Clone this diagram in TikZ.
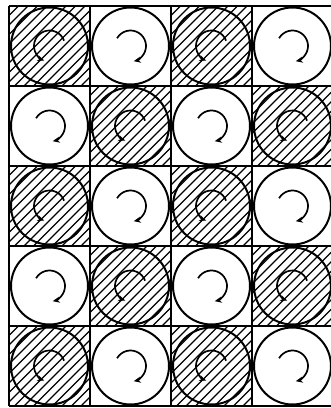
\documentclass[tikz,border=0pt]{standalone}
\usetikzlibrary{arrows.meta}
\begin{document}
\begin{tikzpicture}[x=1pt,y=1pt,
  hatch/.style={line width=1.4pt},
  ring/.style={line width=2pt},
  gridline/.style={line width=1.8pt},
  arr/.style={line width=1.7pt,-{Stealth[length=7pt,width=6pt]}}]
\useasboundingbox (0,0) rectangle (331,408);
\fill[white] (0,0) rectangle (331,408);
\clip (0,0) rectangle (331,408);
\foreach \r in {0,...,4}{
 \foreach \c in {0,...,3}{
  \pgfmathsetmacro\xa{9+81*\c}
  \pgfmathsetmacro\yb{322-80*\r}
  \pgfmathsetmacro\cx{\xa+40.5}
  \pgfmathsetmacro\cy{\yb+40}
  \pgfmathtruncatemacro\s{mod(\r+\c,2)}
  \ifnum\s=0
    \begin{scope}
    \clip (\xa,\yb) rectangle ++(81,80);
    \foreach \k in {0,9.5,...,171} \draw[hatch] (\xa-80+\k,\yb) -- ++(80,80);
    \end{scope}
    \draw[arr] (\cx,\cy) ++(20:15.5) arc[start angle=20,end angle=250,radius=15.5];
  \else
    \draw[arr] (\cx,\cy) ++(150:15.5) arc[start angle=150,end angle=-78,radius=15.5];
  \fi
  \draw[ring] (\cx,\cy) circle[radius=38.5];
 }}
\foreach \y in {2,82,162,242,322,402} \draw[gridline] (9,\y) -- (333,\y);
\foreach \x in {9,90,171,252} \draw[gridline] (\x,2) -- (\x,402);
\end{tikzpicture}
\end{document}
